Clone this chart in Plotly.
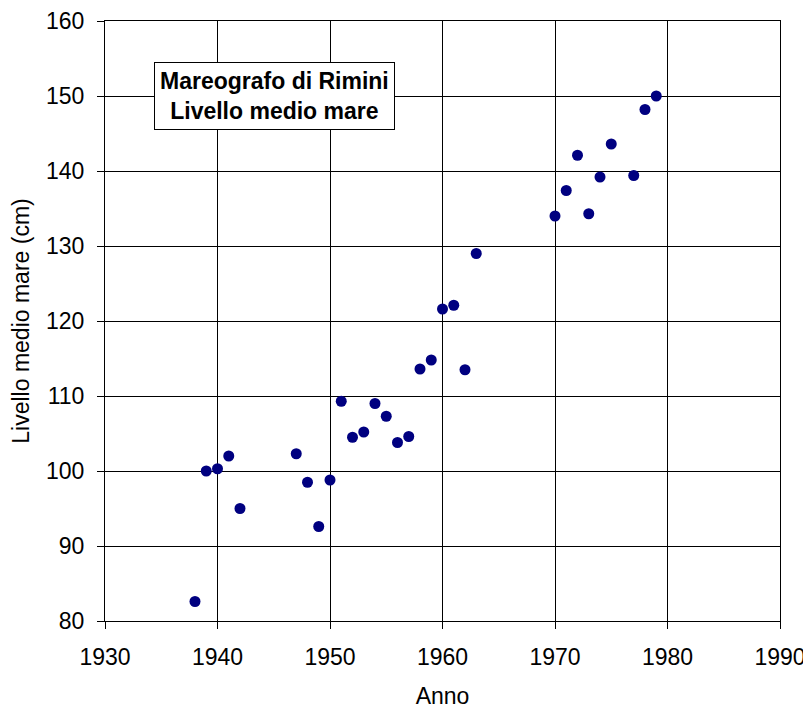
import plotly.graph_objects as go

years = [1938, 1939, 1940, 1941, 1942, 1947, 1948, 1949, 1950, 1951, 1952, 1953,
         1954, 1955, 1956, 1957, 1958, 1959, 1960, 1961, 1962, 1963,
         1970, 1971, 1972, 1973, 1974, 1975, 1977, 1978, 1979]
levels = [82.6, 100.0, 100.3, 102.0, 95.0, 102.3, 98.5, 92.6, 98.8, 109.3, 104.5, 105.2,
          109.0, 107.3, 103.8, 104.6, 113.6, 114.8, 121.6, 122.1, 113.5, 129.0,
          134.0, 137.4, 142.1, 134.3, 139.2, 143.6, 139.4, 148.2, 150.0]

x_ticks = [1930, 1940, 1950, 1960, 1970, 1980, 1990]
y_ticks = [80, 90, 100, 110, 120, 130, 140, 150, 160]

FONT = "Liberation Sans, Arial, sans-serif"

fig = go.Figure()
fig.add_trace(go.Scatter(
    x=years, y=levels, mode="markers",
    marker=dict(color="#000080", size=11, line=dict(width=0)),
    showlegend=False,
))

axis_common = dict(
    showgrid=True, gridcolor="#000000", gridwidth=1,
    showline=True, linecolor="#000000", linewidth=1, mirror=True,
    ticks="outside", ticklen=7, tickcolor="#000000", tickwidth=1,
    tickfont=dict(family=FONT, size=23, color="#000000"),
    zeroline=False, automargin=False,
)

# page body has an 8px default margin, so the figure is sized to end at the window edge
fig.update_layout(
    width=803, height=701,
    margin=dict(l=97, r=31, t=13, b=88),
    paper_bgcolor="white", plot_bgcolor="white",
    font=dict(family=FONT, size=23, color="#000000"),
    xaxis=dict(range=[1930, 1990], tickvals=x_ticks,
               title=dict(text="Anno", font=dict(family=FONT, size=23), standoff=29),
               ticklabelstandoff=8, **axis_common),
    yaxis=dict(range=[80, 160], tickvals=y_ticks,
               title=dict(text="Livello medio mare (cm)", font=dict(family=FONT, size=23), standoff=14),
               ticklabelstandoff=8, **axis_common),
    annotations=[dict(
        x=1945.1, y=150.0, xref="x", yref="y",
        text="<b>Mareografo di Rimini</b><br><b>Livello medio mare</b>",
        showarrow=False, xanchor="center", yanchor="middle",
        font=dict(family=FONT, size=23, color="#000000"),
        bgcolor="white", bordercolor="#000000", borderwidth=1, borderpad=5,
    )],
)

fig.write_html("out.html")
